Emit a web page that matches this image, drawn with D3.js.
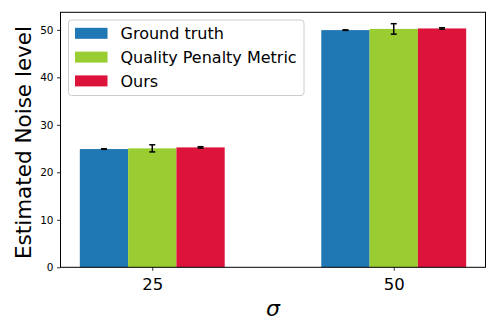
<!DOCTYPE html>
<html><head><meta charset="utf-8">
<script src="https://cdn.jsdelivr.net/npm/d3@7"></script>
<style>body{margin:0;background:#fff}svg{display:block;font-family:"DejaVu Sans",sans-serif}</style>
</head><body><svg id="c" width="498" height="332"></svg>
<script>
const categories = ["25", "50"];
const seriesNames = ["Ground truth", "Quality Penalty Metric", "Ours"];
const seriesColors = ["#1f77b4", "#9acd32", "#dc143c"];
const groundTruth = [24.9, 49.95];
const qpm = [25.05, 50.2];
const ours = [25.25, 50.3];
const groundTruthErr = [0.05, 0.05];
const qpmErr = [0.75, 1.1];
const oursErr = [0.15, 0.15];
const yTicks = [0, 10, 20, 30, 40, 50];

const values = [groundTruth, qpm, ours];
const errs = [groundTruthErr, qpmErr, oursErr];

const svg = d3.select("#c");
const L = 60.5, R = 485.5, T = 12.3, B = 267.3;
const barW = 0.2;
// bars span -0.3..1.3, with 5% margin each side
const x = d3.scaleLinear().domain([-0.38, 1.38]).range([L, R]);
const y = d3.scaleLinear().domain([0, 53.7]).range([B, T]);

// bars
values.forEach((vals, s) => {
  const off = (s - 1) * barW;
  svg.append("g").selectAll("rect").data(vals).join("rect")
    .attr("x", (d, i) => x(i + off - barW/2))
    .attr("width", x(barW) - x(0))
    .attr("y", d => y(d))
    .attr("height", d => y(0) - y(d))
    .attr("fill", seriesColors[s]);
});
// error bars
values.forEach((vals, s) => {
  const off = (s - 1) * barW;
  const g = svg.append("g").attr("stroke", "#000").attr("stroke-width", 1.5);
  vals.forEach((v, i) => {
    const cx = x(i + off), e = errs[s][i];
    g.append("line").attr("x1", cx).attr("x2", cx).attr("y1", y(v - e)).attr("y2", y(v + e));
    [v - e, v + e].forEach(t => g.append("line").attr("x1", cx - 3).attr("x2", cx + 3).attr("y1", y(t)).attr("y2", y(t)));
  });
});

// axes
const yAxis = svg.append("g").attr("transform", `translate(${L},0)`)
  .call(d3.axisLeft(y).tickValues(yTicks).tickSize(3.5).tickPadding(3.5));
yAxis.select(".domain").remove();
yAxis.selectAll("text").attr("font-size", 10.5).attr("font-family", "DejaVu Sans").attr("fill", "#000");
yAxis.selectAll("line").attr("stroke", "#000").attr("stroke-width", 0.8);

const xAxis = svg.append("g").attr("transform", `translate(0,${B})`)
  .call(d3.axisBottom(x).tickValues([0, 1]).tickFormat((d, i) => categories[i]).tickSize(3.5).tickPadding(7));
xAxis.select(".domain").remove();
xAxis.selectAll("text").attr("font-size", 16.5).attr("font-family", "DejaVu Sans").attr("fill", "#000");
xAxis.selectAll("line").attr("stroke", "#000").attr("stroke-width", 0.8);

svg.append("rect").attr("x", L).attr("y", T).attr("width", R - L).attr("height", B - T)
  .attr("fill", "none").attr("stroke", "#000").attr("stroke-width", 1);

// labels
svg.append("text").attr("transform", `translate(31,142.5) rotate(-90)`)
  .attr("text-anchor", "middle").attr("font-size", 21.5).text("Estimated Noise level");
svg.append("text").attr("x", (L+R)/2).attr("y", 315.5).attr("text-anchor", "middle")
  .attr("font-size", 22).attr("font-style", "italic").text("σ");

// legend
const lg = svg.append("g");
lg.append("rect").attr("x", 68.5).attr("y", 20).attr("width", 235.5).attr("height", 75.5)
  .attr("rx", 3).attr("fill", "#fff").attr("fill-opacity", 0.8).attr("stroke", "#ccc").attr("stroke-width", 1);
seriesNames.forEach((n, i) => {
  const cy = 33.3 + i * 23.8;
  lg.append("rect").attr("x", 75).attr("y", cy - 5.5).attr("width", 32.5).attr("height", 11).attr("fill", seriesColors[i]);
  lg.append("text").attr("x", 120.5).attr("y", cy + 5.7).attr("font-size", 16).text(n);
});
</script></body></html>
